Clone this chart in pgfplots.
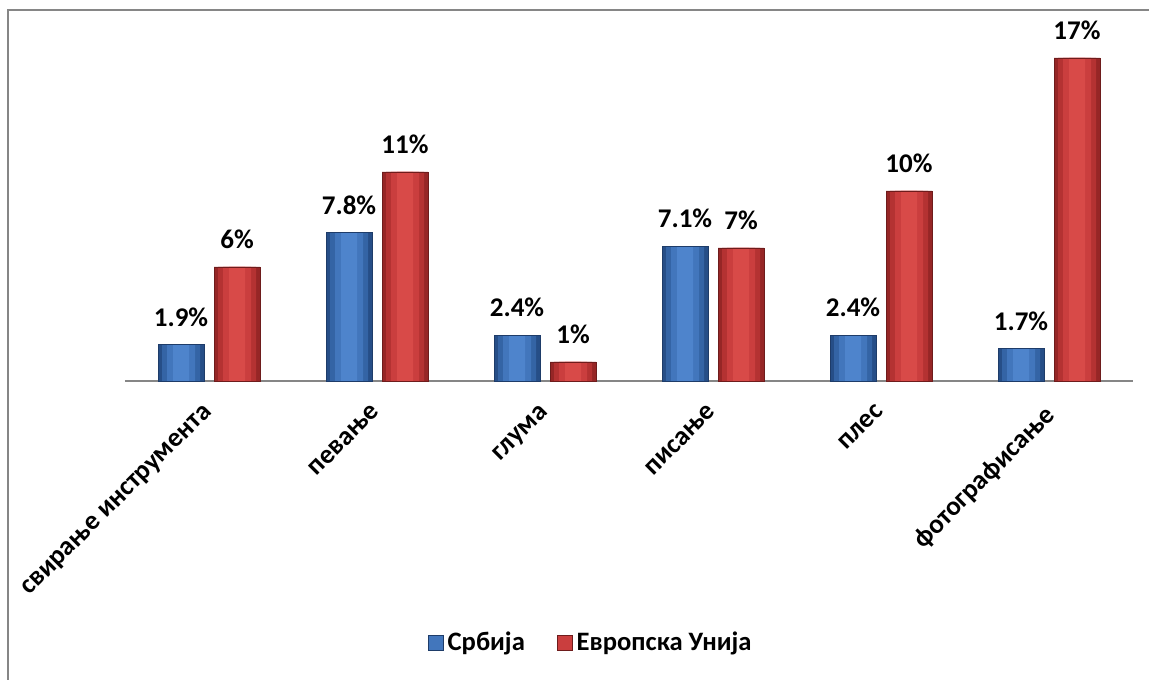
\documentclass[border=0pt]{standalone}
\usepackage{fontspec}
\setmainfont{Carlito}
\usepackage{pgfplots}
\usepackage{pgfplotstable}
\pgfplotsset{compat=1.18}

\definecolor{blueA}{RGB}{38,78,135}
\definecolor{blueB}{RGB}{52,100,165}
\definecolor{blueC}{RGB}{66,118,188}
\definecolor{blueD}{RGB}{78,132,204}
\definecolor{blueLine}{RGB}{30,60,105}
\definecolor{redA}{RGB}{150,38,38}
\definecolor{redB}{RGB}{180,50,50}
\definecolor{redC}{RGB}{202,62,62}
\definecolor{redD}{RGB}{216,74,72}
\definecolor{redLine}{RGB}{110,28,28}
\definecolor{frameGray}{RGB}{134,134,134}

\pgfplotstableread{
x srb eu
0 1.9 6
1 7.8 11
2 2.4 1
3 7.1 7
4 2.4 10
5 1.7 17
}\datatable

\begin{document}
\begin{tikzpicture}
% 1 px of the reference = 0.5pt
\path[use as bounding box] (0,0) rectangle (574.5pt,339.5pt);
\draw[frameGray, line width=1pt] (4pt,-5pt) -- (4pt,334.5pt) -- (580pt,334.5pt);
\begin{axis}[
  at={(62.5pt,149pt)}, anchor=south west,
  scale only axis, width=504pt, height=161.5pt,
  xmin=-0.5, xmax=5.5, ymin=0, ymax=17,
  clip=false,
  axis x line*=bottom, hide y axis,
  x axis line style={frameGray, line width=1pt, -},
  ybar, bar width=23pt,
  xtick=data, major tick length=0pt,
  xticklabels={свирање инструмента, певање, глума, писање, плес, фотографисање},
  xticklabel style={font=\bfseries\fontsize{13.5}{15}\selectfont, inner sep=0pt,
    xshift=-3pt, anchor=north east, rotate=45},
  xticklabel shift=11pt,
  /pgf/number format/assume math mode=true,
  nodes near coords style={font=\bfseries\fontsize{13.5}{15}\selectfont,
    anchor=south, inner sep=0pt, yshift=9pt, text=black},
  legend style={at={(0.463,-0.811)}, anchor=center, draw=none,
    font=\bfseries\fontsize{13.3}{15}\selectfont, legend columns=2,
    /tikz/every even column/.append style={column sep=14pt}},
  legend image code/.code={\draw[#1] (0pt,-3.6pt) rectangle (7.5pt,3.9pt);},
]
\addlegendimage{draw=blueLine, fill=blueC}
\addlegendentry{Србија}
\addlegendimage{draw=redLine, fill=redC}
\addlegendentry{Европска Унија}
% Србија: bevel layers, then outline with labels
\addplot[forget plot, bar shift=-14pt, bar width=23pt, draw=none, fill=blueA] table[x=x, y=srb] {\datatable};
\addplot[forget plot, bar shift=-14pt, bar width=19pt, draw=none, fill=blueB] table[x=x, y=srb] {\datatable};
\addplot[forget plot, bar shift=-14pt, bar width=14pt, draw=none, fill=blueC] table[x=x, y=srb] {\datatable};
\addplot[forget plot, bar shift=-14pt, bar width=8pt, draw=none, fill=blueD] table[x=x, y=srb] {\datatable};
\addplot[forget plot, bar shift=-14pt, bar width=23pt, draw=blueLine, line width=0.4pt, fill=none,
  nodes near coords={\pgfmathprintnumber[fixed, fixed zerofill, precision=1]{\pgfplotspointmeta}\%}]
  table[x=x, y=srb] {\datatable};
% Европска Унија
\addplot[forget plot, bar shift=14pt, bar width=23pt, draw=none, fill=redA] table[x=x, y=eu] {\datatable};
\addplot[forget plot, bar shift=14pt, bar width=19pt, draw=none, fill=redB] table[x=x, y=eu] {\datatable};
\addplot[forget plot, bar shift=14pt, bar width=14pt, draw=none, fill=redC] table[x=x, y=eu] {\datatable};
\addplot[forget plot, bar shift=14pt, bar width=8pt, draw=none, fill=redD] table[x=x, y=eu] {\datatable};
\addplot[forget plot, bar shift=14pt, bar width=23pt, draw=redLine, line width=0.4pt, fill=none,
  nodes near coords={\pgfmathprintnumber[fixed, precision=0]{\pgfplotspointmeta}\%}]
  table[x=x, y=eu] {\datatable};
\end{axis}
\end{tikzpicture}
\end{document}
